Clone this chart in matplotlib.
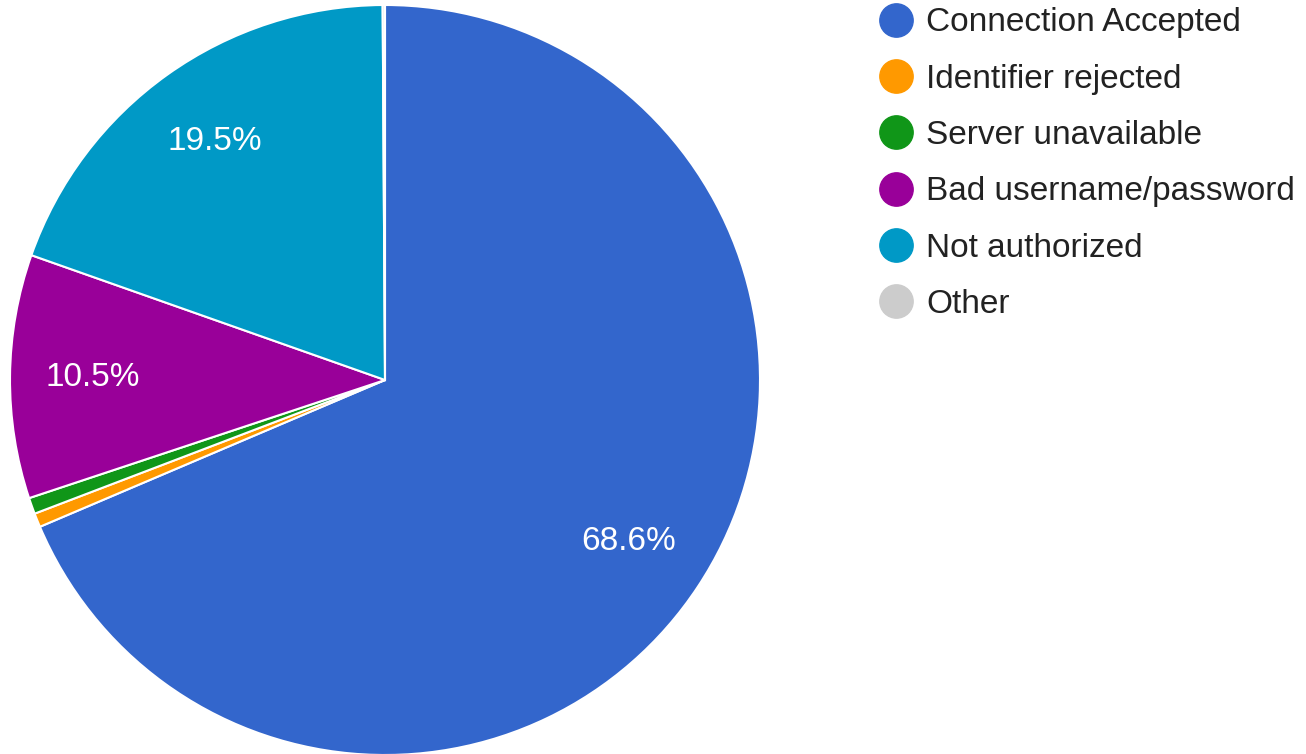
import matplotlib
matplotlib.use("Agg")
import matplotlib.pyplot as plt
from matplotlib.lines import Line2D

plt.rcParams['font.family'] = ['Liberation Sans', 'DejaVu Sans']

categories = ["Connection Accepted", "Identifier rejected", "Server unavailable",
              "Bad username/password", "Not authorized", "Other"]
values = [68.6, 0.6, 0.7, 10.5, 19.5, 0.1]
colors = ["#3366cc", "#ff9900", "#109618", "#990099", "#0099c6", "#cccccc"]

W, H = 1306, 754
fig = plt.figure(figsize=(W / 100, H / 100), dpi=100)
cx, cy, r = 385, 380, 375
ax = fig.add_axes([(cx - r) / W, (H - cy - r) / H, 2 * r / W, 2 * r / H])

def fmt(p):
    return f"{p:.1f}%" if p >= 5 else ""

wedges, texts, autotexts = ax.pie(
    values, colors=colors, startangle=90, counterclock=False,
    autopct=fmt, pctdistance=0.78,
    wedgeprops=dict(edgecolor="white", linewidth=1.5),
    textprops=dict(color="white", fontsize=24))
ax.set_xlim(-1, 1)
ax.set_ylim(-1, 1)
ax.set_aspect("equal")

handles = [Line2D([], [], marker="o", linestyle="none", markersize=24,
                  markerfacecolor=c, markeredgecolor=c) for c in colors]
fig.legend(handles, categories, loc="upper left",
           bbox_to_anchor=(873 / W, 1 - 4 / H), frameon=False,
           fontsize=24, handletextpad=0.3, labelspacing=0.76,
           handlelength=1.2, borderaxespad=0, borderpad=0.1,
           labelcolor="#222222")

fig.savefig("out.png", dpi=100)
